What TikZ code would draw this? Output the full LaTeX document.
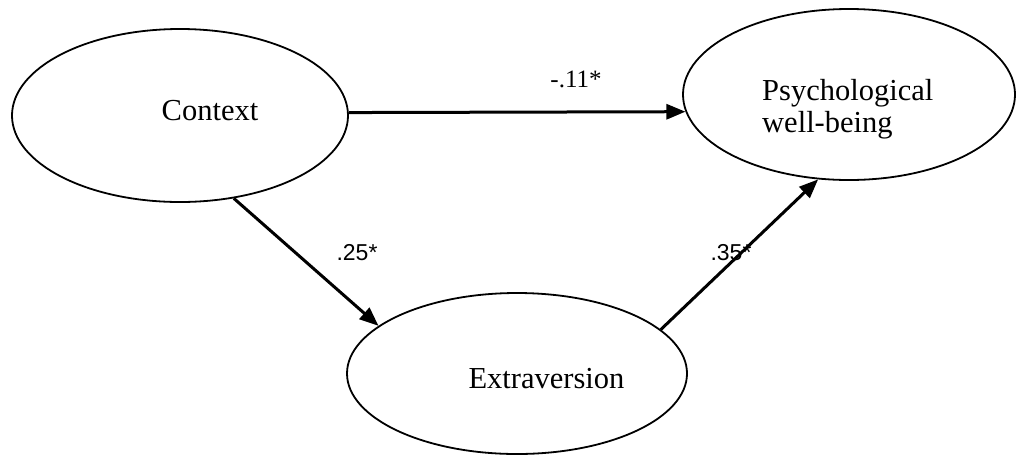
\documentclass[tikz,border=0pt]{standalone}
\usepackage{fontspec}
\setmainfont{Liberation Serif}
\newfontfamily\labsans{Liberation Sans}
\usetikzlibrary{arrows.meta,shapes.geometric}
\begin{document}
\begin{tikzpicture}[x=1pt,y=-1pt,
  latent/.style={draw,ellipse,line width=1.8pt,inner sep=0pt},
  nametext/.style={font=\fontsize{30.5}{32}\selectfont,inner sep=0pt},
  path/.style={line width=3pt,-{Triangle[length=19pt,width=15pt]}},
  coefserif/.style={font=\fontsize{25}{27}\selectfont,inner sep=0pt},
  coefsans/.style={font=\labsans\fontsize{23}{25}\selectfont,inner sep=0pt}]
\useasboundingbox (0,0) rectangle (1016,456);
\node[latent,minimum width=336pt,minimum height=173pt] (ctx) at (180,115.5) {};
\node[latent,minimum width=332pt,minimum height=171pt] (pwb) at (849,94.5) {};
\node[latent,minimum width=340pt,minimum height=161pt] (ext) at (517,373.5) {};
\node[nametext,anchor=base] (ctxT) at (210,120) {Context};
\node[nametext,anchor=base west] (pwbT1) at (762,100) {Psychological};
\node[nametext,anchor=base west] (pwbT2) at (762,132) {well-being};
\node[nametext,anchor=base] (extT) at (546.5,388) {Extraversion};
\draw[path] (ctx.1.2) -- (pwb.186.1);
\draw[path] (ctx.-57) -- (ext.161);
\draw[path] (ext.17.3) -- (pwb.-110.7);
\node[coefserif] (c1) at (576,79) {-.11*};
\node[coefsans] (c2) at (357,253) {.25*};
\node[coefsans] (c3) at (731,253) {.35*};
\end{tikzpicture}
\end{document}
